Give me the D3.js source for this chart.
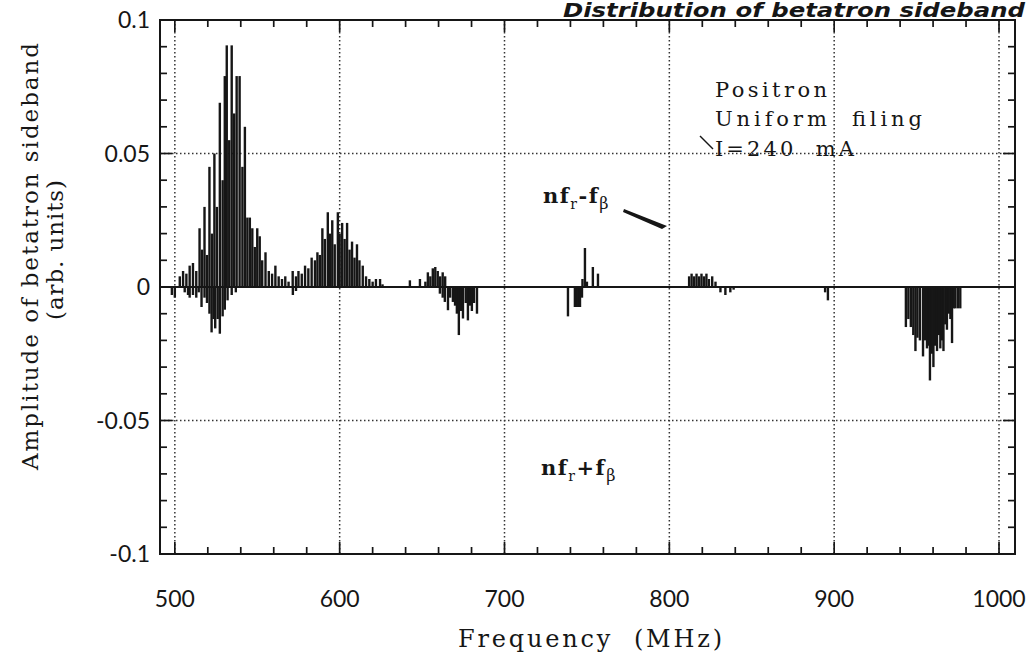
<!DOCTYPE html>
<html>
<head>
<meta charset="utf-8">
<script src="https://cdn.jsdelivr.net/npm/d3@7"></script>
<style>
  html, body { margin: 0; padding: 0; background: #fff; }
  svg { display: block; }
</style>
</head>
<body>
<svg id="chart" width="1032" height="659"></svg>
<script>
// ---------------- data ----------------
const title = "Distribution of betatron sideband";
const xLabel = "Frequency  (MHz)";
const yLabelLines = ["Amplitude of betatron sideband", "(arb. units)"];
const xMajorTicks = [500, 600, 700, 800, 900, 1000];
const xTickLabels = ["500", "600", "700", "800", "900", "1000"];
const yMajorTicks = [0.1, 0.05, 0, -0.05, -0.1];
const yTickLabels = ["0.1", "0.05", "0", "-0.05", "-0.1"];
const notes = ["Positron", "Uniform  filing", "I=240  mA"];

// positive sideband lines (nf_r - f_beta)
const posFreq = [503, 505, 507, 509, 511, 513, 515, 516.5, 518, 519.5, 521, 522.5, 524, 525.5, 527.3, 529, 530.3, 531.5, 533, 534.5,
  536, 537.5, 539.3, 541, 542.5, 544, 545.5, 547, 548.5, 550, 551.5, 553, 555, 557, 559, 561, 563, 565, 567, 569,
  571.5, 573.5, 575, 577, 579, 581, 583, 585, 586.5, 588, 589.5, 591, 592.8, 594, 595.5, 597, 598.9, 600, 601.5, 603,
  604.5, 606, 607.5, 609, 610.5, 612, 614, 616, 618, 620, 622, 624.5, 626,
  642.6, 648.7, 652, 653.5, 655, 656.5, 658, 659.5, 661, 662.5, 664,
  747.3, 748.8, 750, 753.6, 756.7,
  812, 813.5, 815, 816.5, 818, 819.5, 821, 822.5, 824, 826, 828];
const posAmp = [0.004, 0.006, 0.005, 0.008, 0.009, 0.006, 0.022, 0.014, 0.030, 0.012, 0.045, 0.020, 0.050, 0.030, 0.069, 0.040, 0.079, 0.0905, 0.055, 0.0905,
  0.065, 0.079, 0.079, 0.045, 0.060, 0.026, 0.026, 0.022, 0.015, 0.022, 0.019, 0.010, 0.013, 0.006, 0.005, 0.008, 0.004, 0.003, 0.004, 0.002,
  0.006, 0.004, 0.006, 0.005, 0.008, 0.007, 0.011, 0.010, 0.013, 0.012, 0.022, 0.018, 0.028, 0.020, 0.025, 0.016, 0.028, 0.020, 0.024, 0.018,
  0.024, 0.014, 0.017, 0.011, 0.016, 0.010, 0.008, 0.004, 0.003, 0.002, 0.003, 0.003, 0.001,
  0.0025, 0.003, 0.002, 0.0055, 0.004, 0.007, 0.0075, 0.006, 0.004, 0.0055, 0.004,
  0.003, 0.0146, 0.002, 0.0075, 0.005,
  0.004, 0.005, 0.004, 0.005, 0.004, 0.005, 0.004, 0.005, 0.003, 0.004, 0.002];

// negative sideband lines (nf_r + f_beta)
const negFreq = [498.2, 500, 506, 508, 509, 511, 513, 514.5, 516.2, 518, 519.5, 521, 522.3, 523.5, 524.5, 526, 527.3, 529, 530.3, 532, 534.5, 537,
  571.6, 573.5,
  660.8, 662.5, 663.8, 665.7, 667, 668.7, 670, 671.1, 672.3, 673.5, 674.8, 676.5, 677.8, 679, 680.2, 681.5, 683.3,
  738.5, 742.7, 743.8, 744.8, 745.8, 747,
  831, 834, 837, 839,
  894.5, 896.2,
  943.5, 945, 946.5, 948, 949.3, 950.5, 952, 953.9, 955, 956.3, 957.3, 958.1, 959.2, 960.2, 961.3, 962.4, 963.5, 964.4, 965.4, 966.3,
  967.4, 968.4, 969.5, 970.5, 971.5, 972.5, 973.5, 975, 976.5];
const negAmp = [-0.003, -0.004, -0.002, -0.003, -0.004, -0.003, -0.004, -0.002, -0.0075, -0.004, -0.006, -0.010, -0.017, -0.012, -0.0155, -0.012, -0.0175, -0.011, -0.0085, -0.005, -0.003, -0.002,
  -0.003, -0.0015,
  -0.0025, -0.004, -0.0056, -0.0087, -0.004, -0.0056, -0.007, -0.010, -0.018, -0.009, -0.0118, -0.006, -0.0125, -0.007, -0.009, -0.006, -0.010,
  -0.011, -0.0075, -0.0075, -0.0075, -0.0075, -0.004,
  -0.002, -0.003, -0.002, -0.001,
  -0.002, -0.005,
  -0.015, -0.012, -0.015, -0.018, -0.024, -0.019, -0.020, -0.026, -0.020, -0.023, -0.022, -0.035, -0.025, -0.030, -0.022, -0.024, -0.018, -0.023, -0.020, -0.024,
  -0.014, -0.016, -0.010, -0.012, -0.021, -0.008, -0.008, -0.008, -0.008];

// ---------------- drawing ----------------
const svg = d3.select("#chart");
const W = 1032, H = 659;
const plot = { left: 160, right: 1015, top: 20, bottom: 554 };
const ink = "#161616";
const serif = "'DejaVu Serif', 'Liberation Serif', serif";
const sans = "Lato, 'Open Sans', 'Liberation Sans', sans-serif";

const x = d3.scaleLinear().domain([491, 1009.7]).range([plot.left, plot.right]);
const y = d3.scaleLinear().domain([-0.1, 0.1]).range([plot.bottom, plot.top]);

svg.append("rect").attr("width", W).attr("height", H).attr("fill", "#fff");

// grid (dotted)
const grid = svg.append("g").attr("stroke", "#333").attr("stroke-width", 1.5)
  .attr("stroke-dasharray", "1.5,2.5");
grid.selectAll("line.v").data(xMajorTicks).join("line").attr("class", "v")
  .attr("x1", d => x(d)).attr("x2", d => x(d))
  .attr("y1", plot.top).attr("y2", plot.bottom);
grid.selectAll("line.h").data([0.05, -0.05]).join("line").attr("class", "h")
  .attr("x1", plot.left).attr("x2", plot.right)
  .attr("y1", d => y(d)).attr("y2", d => y(d));

// ticks (inward on all four sides)
const xMinor = d3.range(520, 1000, 20).filter(v => v % 100 !== 0);
const yMinor = d3.range(-9, 10).filter(v => v !== 0 && v % 5 !== 0).map(v => v / 100);
const xTicks = xMajorTicks.map(v => ({ v, len: 12 })).concat(xMinor.map(v => ({ v, len: 7 })));
const yTicks = yMajorTicks.map(v => ({ v, len: 12 })).concat(yMinor.map(v => ({ v, len: 7 })));
const tickG = svg.append("g").attr("stroke", ink).attr("stroke-width", 1.7);
tickG.selectAll("line.xb").data(xTicks).join("line").attr("class", "xb")
  .attr("x1", d => x(d.v)).attr("x2", d => x(d.v))
  .attr("y1", plot.bottom).attr("y2", d => plot.bottom - d.len);
tickG.selectAll("line.xt").data(xTicks).join("line").attr("class", "xt")
  .attr("x1", d => x(d.v)).attr("x2", d => x(d.v))
  .attr("y1", plot.top).attr("y2", d => plot.top + d.len);
tickG.selectAll("line.yl").data(yTicks).join("line").attr("class", "yl")
  .attr("y1", d => y(d.v)).attr("y2", d => y(d.v))
  .attr("x1", plot.left).attr("x2", d => plot.left + d.len);
tickG.selectAll("line.yr").data(yTicks).join("line").attr("class", "yr")
  .attr("y1", d => y(d.v)).attr("y2", d => y(d.v))
  .attr("x1", plot.right).attr("x2", d => plot.right - d.len);

// tick labels
svg.append("g").selectAll("text").data(xMajorTicks).join("text")
  .attr("x", d => x(d)).attr("y", 607)
  .attr("text-anchor", "middle")
  .attr("font-family", sans).attr("font-size", 23).attr("fill", ink)
  .text((d, i) => xTickLabels[i]);
svg.append("g").selectAll("text").data(yMajorTicks).join("text")
  .attr("x", 150).attr("y", d => y(d)).attr("dy", "0.36em")
  .attr("text-anchor", "end")
  .attr("font-family", sans).attr("font-size", 23).attr("fill", ink)
  .text((d, i) => yTickLabels[i]);

// frame
svg.append("rect")
  .attr("x", plot.left).attr("y", plot.top)
  .attr("width", plot.right - plot.left).attr("height", plot.bottom - plot.top)
  .attr("fill", "none").attr("stroke", ink).attr("stroke-width", 2);

// baseline
svg.append("line")
  .attr("x1", plot.left).attr("x2", plot.right)
  .attr("y1", y(0)).attr("y2", y(0))
  .attr("stroke", ink).attr("stroke-width", 2);

// spectral lines
const pos = posFreq.map((f, i) => ({ f, a: posAmp[i] }));
const neg = negFreq.map((f, i) => ({ f, a: negAmp[i] }));
const lines = svg.append("g").attr("stroke", ink).attr("stroke-width", 2.4);
lines.selectAll("line.p").data(pos).join("line").attr("class", "p")
  .attr("x1", d => x(d.f)).attr("x2", d => x(d.f))
  .attr("y1", y(0)).attr("y2", d => y(d.a));
lines.selectAll("line.n").data(neg).join("line").attr("class", "n")
  .attr("x1", d => x(d.f)).attr("x2", d => x(d.f))
  .attr("y1", y(0)).attr("y2", d => y(d.a));

// axis titles
svg.append("text")
  .attr("x", 458).attr("y", 647)
  .attr("font-family", serif).attr("font-size", 24).attr("fill", ink)
  .attr("xml:space", "preserve")
  .attr("textLength", 264).attr("lengthAdjust", "spacing")
  .text(xLabel);
const yt = svg.append("text")
  .attr("transform", "rotate(-90)")
  .attr("font-family", serif).attr("font-size", 23).attr("fill", ink);
yt.append("tspan").attr("x", -470).attr("y", 38)
  .attr("textLength", 427).attr("lengthAdjust", "spacing").text(yLabelLines[0]);
yt.append("tspan").attr("x", -320).attr("y", 63)
  .attr("textLength", 140).attr("lengthAdjust", "spacing").text(yLabelLines[1]);

// notes
const noteLen = [112, 207, 139];
const noteY = [97, 126, 156];
notes.forEach((t, i) => {
  svg.append("text")
    .attr("x", 715).attr("y", noteY[i])
    .attr("font-family", serif).attr("font-size", 21).attr("fill", ink)
    .attr("xml:space", "preserve")
    .attr("textLength", noteLen[i]).attr("lengthAdjust", "spacing")
    .text(t);
});
svg.append("line").attr("x1", 700).attr("y1", 136).attr("x2", 713).attr("y2", 149)
  .attr("stroke", ink).attr("stroke-width", 1.4);

// sideband labels
function sideband(xp, yp, sign) {
  const t = svg.append("text").attr("x", xp).attr("y", yp)
    .attr("font-family", serif).attr("font-size", 21).attr("font-weight", "bold").attr("fill", ink)
    .attr("letter-spacing", 1.5);
  t.append("tspan").text("nf");
  t.append("tspan").attr("dy", 6).attr("font-size", 14).attr("font-weight", "normal").text("r");
  t.append("tspan").attr("dy", -6).text(sign + "f");
  t.append("tspan").attr("dy", 6).attr("font-size", 16).attr("font-weight", "normal").text("β");
}
sideband(543, 203, "-");
sideband(541, 475, "+");
svg.append("path")
  .attr("d", "M624,209 L667,226 L662,229 L623,212 Z")
  .attr("fill", ink);

// title (in the strip above the frame, as in the reference)
svg.append("text")
  .attr("x", 563).attr("y", 17)
  .attr("font-family", "'DejaVu Sans', sans-serif")
  .attr("font-style", "italic").attr("font-weight", "bold")
  .attr("font-size", 19).attr("fill", ink)
  .attr("textLength", 462).attr("lengthAdjust", "spacingAndGlyphs")
  .text(title);
</script>
</body>
</html>
